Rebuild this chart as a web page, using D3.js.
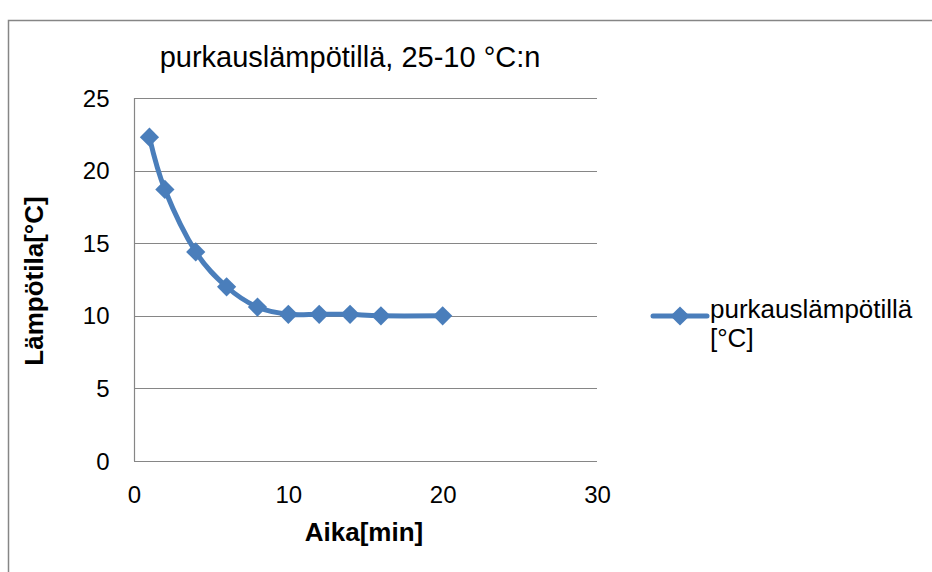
<!DOCTYPE html>
<html><head><meta charset="utf-8">
<script src="https://cdn.jsdelivr.net/npm/d3@7"></script>
<style>body{margin:0;background:#fff}svg{display:block}text{font-family:"Liberation Sans",Arial,sans-serif}</style>
</head><body>
<svg id="c" width="932" height="572"></svg>
<script>
const timeMin = [1, 2, 4, 6, 8, 10, 12, 14, 16, 20];
const tempC = [22.3, 18.7, 14.4, 12.0, 10.6, 10.1, 10.1, 10.1, 10.0, 10.0];
const xTicks = [0, 10, 20, 30];
const yTicks = [0, 5, 10, 15, 20, 25];
const title = "purkauslämpötillä, 25-10 °C:n";
const seriesName = ["purkauslämpötillä", "[°C]"];

const svg = d3.select("#c");
const blue = "#4A7EBB", gray = "#868686";
const FONT = '"Liberation Sans",Arial,sans-serif';
svg.append("rect").attr("x", 8.5).attr("y", 20.5).attr("width", 1000).attr("height", 1000)
  .attr("fill", "#fff").attr("stroke", gray).attr("stroke-width", 1.5);

const L = 134, R = 597, T = 98, B = 461;
const x = d3.scaleLinear().domain([0, 30]).range([L, R]);
const y = d3.scaleLinear().domain([0, 25]).range([B, T]);

// gridlines
svg.append("g").selectAll("line").data(yTicks.filter(d => d > 0)).join("line")
  .attr("x1", L).attr("x2", R).attr("y1", d => Math.round(y(d)) + 0.5).attr("y2", d => Math.round(y(d)) + 0.5)
  .attr("stroke", gray).attr("stroke-width", 1.2);

// axes
const yAxis = svg.append("g").attr("transform", `translate(${L + 0.5},0)`)
  .call(d3.axisLeft(y).tickValues(yTicks).tickSize(0).tickPadding(25));
const xAxis = svg.append("g").attr("transform", `translate(0,${B + 0.5})`)
  .call(d3.axisBottom(x).tickValues(xTicks).tickSize(0).tickPadding(24));
[xAxis, yAxis].forEach(a => {
  a.select(".domain").attr("stroke", gray).attr("stroke-width", 1.2);
  a.selectAll("text").attr("font-size", 24).attr("fill", "#000").attr("font-family", FONT);
});
xAxis.select(".domain").attr("d", `M${L},0H${R}`);
yAxis.select(".domain").attr("d", `M0,${T}V${B}`);
yAxis.selectAll("text").attr("dy", "0.34em");

// line
const line = d3.line().x((d, i) => x(timeMin[i])).y(d => y(d)).curve(d3.curveCatmullRom.alpha(0));
svg.append("path").datum(tempC).attr("d", line).attr("fill", "none").attr("stroke", blue)
  .attr("stroke-width", 5).attr("stroke-linejoin", "round");
const diamond = d3.symbol().type(d3.symbolSquare).size(185);
svg.append("g").selectAll("path").data(tempC).join("path")
  .attr("d", diamond).attr("fill", blue)
  .attr("transform", (d, i) => `translate(${x(timeMin[i])},${y(d)}) rotate(45)`);

// titles
svg.append("text").attr("x", 350).attr("y", 67).attr("text-anchor", "middle").attr("font-size", 29).text(title);
svg.append("text").attr("x", 364).attr("y", 541).attr("text-anchor", "middle").attr("font-size", 26)
  .attr("font-weight", "bold").text("Aika[min]");
svg.append("text").attr("transform", "translate(43,281) rotate(-90)").attr("text-anchor", "middle")
  .attr("font-size", 26).attr("font-weight", "bold").text("Lämpötila[°C]");

// legend
const lg = svg.append("g");
lg.append("line").attr("x1", 653).attr("x2", 707).attr("y1", 316).attr("y2", 316)
  .attr("stroke", blue).attr("stroke-width", 5).attr("stroke-linecap", "round");
lg.append("path").attr("d", diamond).attr("fill", blue).attr("transform", "translate(680,316) rotate(45)");
lg.selectAll("text").data(seriesName).join("text").attr("x", 710).attr("y", (d, i) => 318 + i * 29)
  .attr("font-size", 26).text(d => d);
</script>
</body></html>
